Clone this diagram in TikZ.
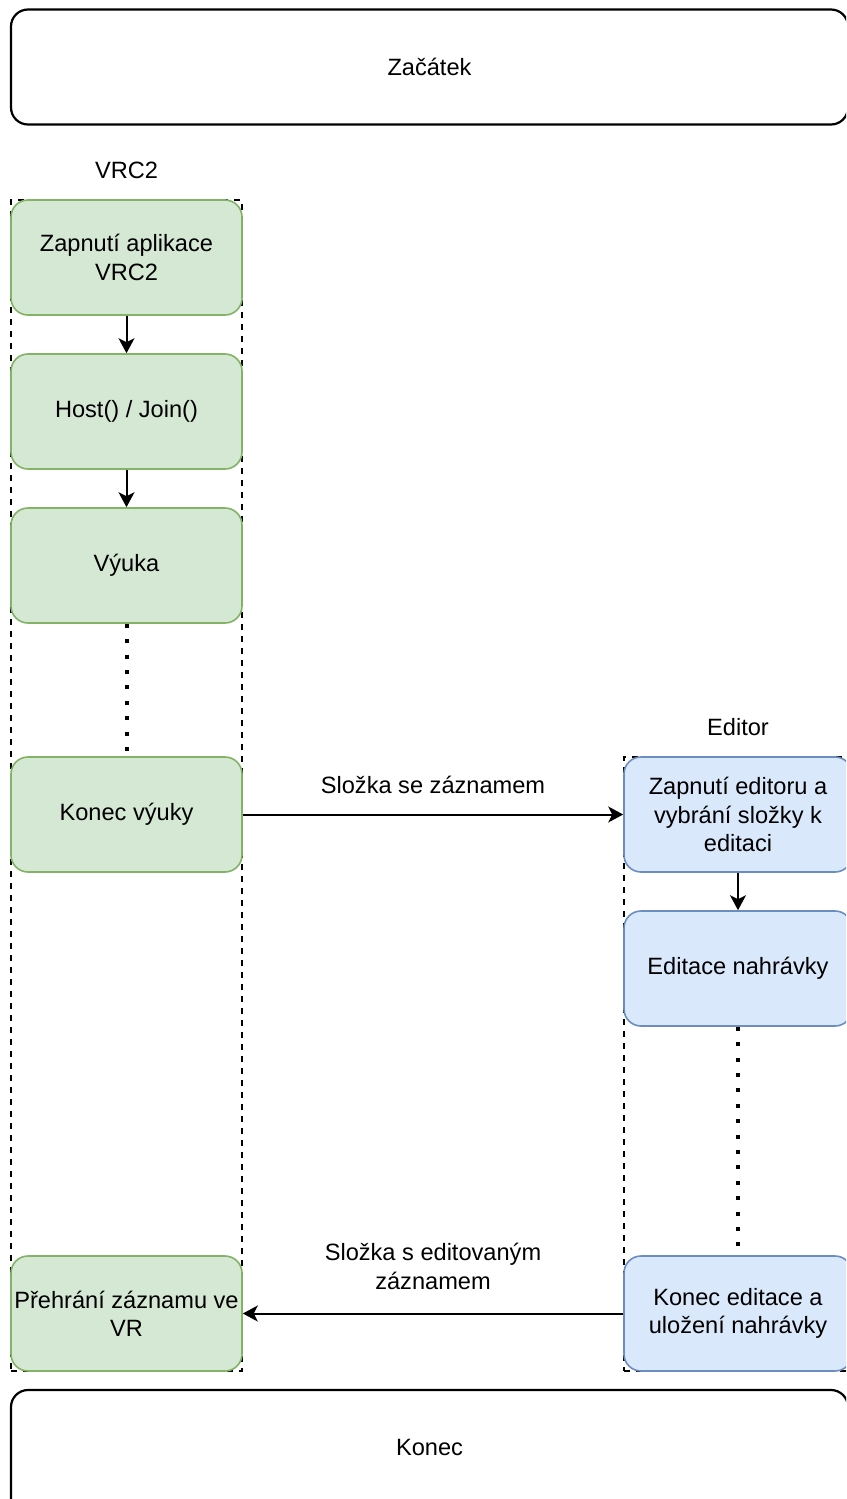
\documentclass[tikz,border=0pt]{standalone}
\usepackage{fontspec}
\setmainfont{Liberation Sans}
\usetikzlibrary{arrows.meta}
\definecolor{gfill}{HTML}{D5E8D4}
\definecolor{gstroke}{HTML}{82B366}
\definecolor{bfill}{HTML}{DAE8FC}
\definecolor{bstroke}{HTML}{6C8EBF}
\newcommand{\fsz}{\fontsize{23.6}{28.3}\selectfont}
\begin{document}
\begin{tikzpicture}[x=1pt,y=-1pt,
  term/.style={draw=black, line width=2.2pt, rounded corners=17pt, minimum width=837pt, minimum height=115pt, inner sep=0pt, font=\fsz},
  gbox/.style={draw=gstroke, fill=gfill, line width=1.6pt, rounded corners=17pt, minimum width=231pt, minimum height=115pt, inner sep=0pt, align=center, font=\fsz},
  bbox/.style={draw=bstroke, fill=bfill, line width=1.6pt, rounded corners=17pt, minimum width=228pt, minimum height=115pt, inner sep=0pt, align=center, font=\fsz},
  container/.style={draw=black, dash pattern=on 6pt off 6pt, line width=1.6pt, inner sep=0pt},
  lbl/.style={font=\fsz, align=center, inner sep=0pt},
  arr/.style={draw=black, line width=2pt, -{Stealth[length=15pt,width=16pt,inset=4pt]}},
  dotline/.style={draw=black, line width=4pt, dash pattern=on 4pt off 11.4pt}
]
\useasboundingbox (0,0) rectangle (846,1499);
\clip (0,0) rectangle (846,1499);
\fill[white] (0,0) rectangle (846,1499);

% terminals
\node[term] (start) at (429.5,67) {Začátek};
\node[term, minimum height=140pt] (end) at (429.5,1460) {\raisebox{25pt}{Konec}};

% containers
\node[container, minimum width=231pt, minimum height=1171pt] (cvrc) at (126.5,785.5) {};
\node[container, minimum width=228pt, minimum height=614pt] (ced) at (738,1064) {};
\node[lbl] (lvrc) at (126.5,170) {VRC2};
\node[lbl] (led) at (738,727) {Editor};

% VRC2 boxes
\node[gbox] (g1) at (126.5,257.5) {Zapnutí aplikace\\VRC2};
\node[gbox] (g2) at (126.5,411.5) {Host() / Join()};
\node[gbox] (g3) at (126.5,565.5) {Výuka};
\node[gbox] (g4) at (126.5,814.5) {Konec výuky};
\node[gbox] (g5) at (126.5,1313.5) {Přehrání záznamu ve\\VR};

% Editor boxes
\node[bbox] (b1) at (738,814.5) {Zapnutí editoru a\\vybrání složky k\\editaci};
\node[bbox] (b2) at (738,968.5) {Editace nahrávky};
\node[bbox] (b3) at (738,1313.5) {Konec editace a\\uložení nahrávky};

% connectors
\draw[arr] (g1) -- (g2);
\draw[arr] (g2) -- (g3);
\draw[dotline] (g3.south) -- (g4.north);
\draw[arr] (g4) -- node[lbl, midway, yshift=30pt] (l1) {Složka se záznamem} (b1);
\draw[arr] (b1) -- (b2);
\draw[dotline] (b2.south) -- (b3.north);
\draw[arr] (b3) -- node[lbl, midway, yshift=47pt] (l2) {Složka s editovaným\\záznamem} (g5);
\end{tikzpicture}
\end{document}
